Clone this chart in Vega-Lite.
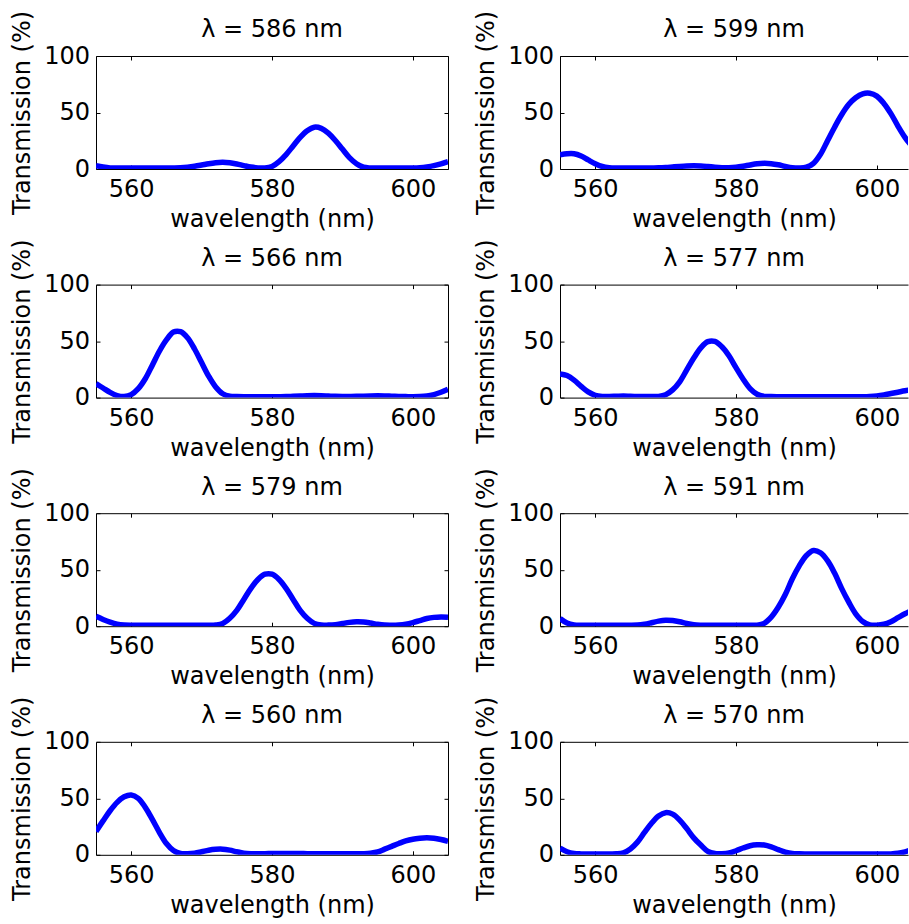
{
"$schema": "https://vega.github.io/schema/vega-lite/v6.json",
"padding": {"left": 10, "top": 10, "right": 0, "bottom": 0},
"background": "white",
"datasets": {"d": [
{"p":"586","x":555,"t":3},{"p":"586","x":556,"t":1.8},{"p":"586","x":557,"t":1},{"p":"586","x":558,"t":0.8},{"p":"586","x":559,"t":0.8},{"p":"586","x":560,"t":0.8},{"p":"586","x":561,"t":0.8},{"p":"586","x":562,"t":0.8},{"p":"586","x":563,"t":0.8},{"p":"586","x":564,"t":0.8},{"p":"586","x":565,"t":0.8},{"p":"586","x":566,"t":0.9},{"p":"586","x":567,"t":1.1},{"p":"586","x":568,"t":1.6},{"p":"586","x":569,"t":2.4},{"p":"586","x":570,"t":3.5},{"p":"586","x":571,"t":4.7},{"p":"586","x":572,"t":5.6},{"p":"586","x":573,"t":6},{"p":"586","x":574,"t":5.5},{"p":"586","x":575,"t":4.4},{"p":"586","x":576,"t":3},{"p":"586","x":577,"t":1.7},{"p":"586","x":578,"t":1},{"p":"586","x":579,"t":0.9},{"p":"586","x":580,"t":2.3},{"p":"586","x":581,"t":6.6},{"p":"586","x":582,"t":12.8},{"p":"586","x":583,"t":20.4},{"p":"586","x":584,"t":28},{"p":"586","x":585,"t":33.9},{"p":"586","x":586,"t":37},{"p":"586","x":587,"t":36},{"p":"586","x":588,"t":31.8},{"p":"586","x":589,"t":25.2},{"p":"586","x":590,"t":17.6},{"p":"586","x":591,"t":10},{"p":"586","x":592,"t":4.6},{"p":"586","x":593,"t":1.6},{"p":"586","x":594,"t":0.9},{"p":"586","x":595,"t":0.8},{"p":"586","x":596,"t":0.8},{"p":"586","x":597,"t":0.8},{"p":"586","x":598,"t":0.8},{"p":"586","x":599,"t":0.8},{"p":"586","x":600,"t":0.9},{"p":"586","x":601,"t":1.2},{"p":"586","x":602,"t":1.9},{"p":"586","x":603,"t":3},{"p":"586","x":604,"t":4.6},{"p":"586","x":605,"t":6.5},
{"p":"599","x":555,"t":12.5},{"p":"599","x":556,"t":13.5},{"p":"599","x":557,"t":13.5},{"p":"599","x":558,"t":11.5},{"p":"599","x":559,"t":8},{"p":"599","x":560,"t":4.7},{"p":"599","x":561,"t":2.2},{"p":"599","x":562,"t":1.1},{"p":"599","x":563,"t":0.8},{"p":"599","x":564,"t":0.8},{"p":"599","x":565,"t":0.8},{"p":"599","x":566,"t":0.8},{"p":"599","x":567,"t":0.8},{"p":"599","x":568,"t":0.9},{"p":"599","x":569,"t":1},{"p":"599","x":570,"t":1.3},{"p":"599","x":571,"t":1.8},{"p":"599","x":572,"t":2.3},{"p":"599","x":573,"t":2.7},{"p":"599","x":574,"t":2.9},{"p":"599","x":575,"t":2.7},{"p":"599","x":576,"t":2.2},{"p":"599","x":577,"t":1.6},{"p":"599","x":578,"t":1.2},{"p":"599","x":579,"t":1.1},{"p":"599","x":580,"t":1.5},{"p":"599","x":581,"t":2.4},{"p":"599","x":582,"t":3.6},{"p":"599","x":583,"t":4.6},{"p":"599","x":584,"t":5},{"p":"599","x":585,"t":4.7},{"p":"599","x":586,"t":3.7},{"p":"599","x":587,"t":2.3},{"p":"599","x":588,"t":1.2},{"p":"599","x":589,"t":0.9},{"p":"599","x":590,"t":1.6},{"p":"599","x":591,"t":5},{"p":"599","x":592,"t":13},{"p":"599","x":593,"t":25},{"p":"599","x":594,"t":37},{"p":"599","x":595,"t":48},{"p":"599","x":596,"t":57},{"p":"599","x":597,"t":63},{"p":"599","x":598,"t":66.5},{"p":"599","x":599,"t":67},{"p":"599","x":600,"t":64.5},{"p":"599","x":601,"t":58},{"p":"599","x":602,"t":49},{"p":"599","x":603,"t":38},{"p":"599","x":604,"t":28},{"p":"599","x":605,"t":20},
{"p":"566","x":555,"t":12.3},{"p":"566","x":556,"t":8.5},{"p":"566","x":557,"t":4.6},{"p":"566","x":558,"t":1.8},{"p":"566","x":559,"t":0.9},{"p":"566","x":560,"t":2.6},{"p":"566","x":561,"t":7.9},{"p":"566","x":562,"t":16.7},{"p":"566","x":563,"t":28.7},{"p":"566","x":564,"t":41},{"p":"566","x":565,"t":51},{"p":"566","x":566,"t":58},{"p":"566","x":567,"t":58.3},{"p":"566","x":568,"t":53},{"p":"566","x":569,"t":43},{"p":"566","x":570,"t":31},{"p":"566","x":571,"t":19},{"p":"566","x":572,"t":9.4},{"p":"566","x":573,"t":3.4},{"p":"566","x":574,"t":1.2},{"p":"566","x":575,"t":0.9},{"p":"566","x":576,"t":0.8},{"p":"566","x":577,"t":0.8},{"p":"566","x":578,"t":0.8},{"p":"566","x":579,"t":0.8},{"p":"566","x":580,"t":0.8},{"p":"566","x":581,"t":0.8},{"p":"566","x":582,"t":0.9},{"p":"566","x":583,"t":1.1},{"p":"566","x":584,"t":1.4},{"p":"566","x":585,"t":1.7},{"p":"566","x":586,"t":1.8},{"p":"566","x":587,"t":1.7},{"p":"566","x":588,"t":1.4},{"p":"566","x":589,"t":1.1},{"p":"566","x":590,"t":1},{"p":"566","x":591,"t":1},{"p":"566","x":592,"t":1.1},{"p":"566","x":593,"t":1.3},{"p":"566","x":594,"t":1.5},{"p":"566","x":595,"t":1.6},{"p":"566","x":596,"t":1.5},{"p":"566","x":597,"t":1.3},{"p":"566","x":598,"t":1},{"p":"566","x":599,"t":0.9},{"p":"566","x":600,"t":0.8},{"p":"566","x":601,"t":0.9},{"p":"566","x":602,"t":1.4},{"p":"566","x":603,"t":2.7},{"p":"566","x":604,"t":4.7},{"p":"566","x":605,"t":7.3},
{"p":"577","x":555,"t":21},{"p":"577","x":556,"t":19.5},{"p":"577","x":557,"t":15.5},{"p":"577","x":558,"t":10},{"p":"577","x":559,"t":5},{"p":"577","x":560,"t":2},{"p":"577","x":561,"t":1},{"p":"577","x":562,"t":1},{"p":"577","x":563,"t":1.2},{"p":"577","x":564,"t":1.4},{"p":"577","x":565,"t":1.2},{"p":"577","x":566,"t":1},{"p":"577","x":567,"t":0.9},{"p":"577","x":568,"t":0.9},{"p":"577","x":569,"t":1},{"p":"577","x":570,"t":2.5},{"p":"577","x":571,"t":6.8},{"p":"577","x":572,"t":14},{"p":"577","x":573,"t":24.5},{"p":"577","x":574,"t":35},{"p":"577","x":575,"t":44},{"p":"577","x":576,"t":49.5},{"p":"577","x":577,"t":49.7},{"p":"577","x":578,"t":45},{"p":"577","x":579,"t":37},{"p":"577","x":580,"t":26.5},{"p":"577","x":581,"t":16.5},{"p":"577","x":582,"t":8},{"p":"577","x":583,"t":3},{"p":"577","x":584,"t":1.1},{"p":"577","x":585,"t":0.9},{"p":"577","x":586,"t":0.8},{"p":"577","x":587,"t":0.8},{"p":"577","x":588,"t":0.8},{"p":"577","x":589,"t":0.8},{"p":"577","x":590,"t":0.8},{"p":"577","x":591,"t":0.8},{"p":"577","x":592,"t":0.8},{"p":"577","x":593,"t":0.8},{"p":"577","x":594,"t":0.8},{"p":"577","x":595,"t":0.8},{"p":"577","x":596,"t":0.8},{"p":"577","x":597,"t":0.8},{"p":"577","x":598,"t":0.8},{"p":"577","x":599,"t":1},{"p":"577","x":600,"t":1.5},{"p":"577","x":601,"t":2.4},{"p":"577","x":602,"t":3.6},{"p":"577","x":603,"t":4.8},{"p":"577","x":604,"t":6},{"p":"577","x":605,"t":7},
{"p":"579","x":555,"t":8.8},{"p":"579","x":556,"t":6},{"p":"579","x":557,"t":3.6},{"p":"579","x":558,"t":1.8},{"p":"579","x":559,"t":1},{"p":"579","x":560,"t":0.8},{"p":"579","x":561,"t":0.8},{"p":"579","x":562,"t":0.8},{"p":"579","x":563,"t":0.8},{"p":"579","x":564,"t":0.8},{"p":"579","x":565,"t":0.8},{"p":"579","x":566,"t":0.8},{"p":"579","x":567,"t":0.8},{"p":"579","x":568,"t":0.8},{"p":"579","x":569,"t":0.8},{"p":"579","x":570,"t":0.8},{"p":"579","x":571,"t":0.9},{"p":"579","x":572,"t":1.1},{"p":"579","x":573,"t":2.4},{"p":"579","x":574,"t":7},{"p":"579","x":575,"t":14},{"p":"579","x":576,"t":23.7},{"p":"579","x":577,"t":33.5},{"p":"579","x":578,"t":41.4},{"p":"579","x":579,"t":46},{"p":"579","x":580,"t":46},{"p":"579","x":581,"t":41.4},{"p":"579","x":582,"t":33.5},{"p":"579","x":583,"t":23.7},{"p":"579","x":584,"t":14},{"p":"579","x":585,"t":7},{"p":"579","x":586,"t":2.5},{"p":"579","x":587,"t":1},{"p":"579","x":588,"t":1},{"p":"579","x":589,"t":1.4},{"p":"579","x":590,"t":2.4},{"p":"579","x":591,"t":3.4},{"p":"579","x":592,"t":3.9},{"p":"579","x":593,"t":3.7},{"p":"579","x":594,"t":2.8},{"p":"579","x":595,"t":1.7},{"p":"579","x":596,"t":1},{"p":"579","x":597,"t":0.9},{"p":"579","x":598,"t":1.1},{"p":"579","x":599,"t":1.8},{"p":"579","x":600,"t":3.2},{"p":"579","x":601,"t":5},{"p":"579","x":602,"t":6.8},{"p":"579","x":603,"t":7.8},{"p":"579","x":604,"t":8.2},{"p":"579","x":605,"t":8},
{"p":"591","x":555,"t":6.8},{"p":"591","x":556,"t":2.8},{"p":"591","x":557,"t":1.1},{"p":"591","x":558,"t":0.8},{"p":"591","x":559,"t":0.8},{"p":"591","x":560,"t":0.8},{"p":"591","x":561,"t":0.8},{"p":"591","x":562,"t":0.8},{"p":"591","x":563,"t":0.8},{"p":"591","x":564,"t":0.8},{"p":"591","x":565,"t":0.8},{"p":"591","x":566,"t":1},{"p":"591","x":567,"t":1.8},{"p":"591","x":568,"t":3.1},{"p":"591","x":569,"t":4.5},{"p":"591","x":570,"t":5.3},{"p":"591","x":571,"t":5},{"p":"591","x":572,"t":3.9},{"p":"591","x":573,"t":2.4},{"p":"591","x":574,"t":1.3},{"p":"591","x":575,"t":0.9},{"p":"591","x":576,"t":0.8},{"p":"591","x":577,"t":0.8},{"p":"591","x":578,"t":0.8},{"p":"591","x":579,"t":0.8},{"p":"591","x":580,"t":0.8},{"p":"591","x":581,"t":0.8},{"p":"591","x":582,"t":0.8},{"p":"591","x":583,"t":0.9},{"p":"591","x":584,"t":2.5},{"p":"591","x":585,"t":8},{"p":"591","x":586,"t":16.7},{"p":"591","x":587,"t":28},{"p":"591","x":588,"t":42},{"p":"591","x":589,"t":53.6},{"p":"591","x":590,"t":62.6},{"p":"591","x":591,"t":67},{"p":"591","x":592,"t":65},{"p":"591","x":593,"t":58},{"p":"591","x":594,"t":47},{"p":"591","x":595,"t":33.5},{"p":"591","x":596,"t":21.5},{"p":"591","x":597,"t":11},{"p":"591","x":598,"t":4.2},{"p":"591","x":599,"t":1.2},{"p":"591","x":600,"t":0.9},{"p":"591","x":601,"t":1.7},{"p":"591","x":602,"t":4},{"p":"591","x":603,"t":7.5},{"p":"591","x":604,"t":11},{"p":"591","x":605,"t":14},
{"p":"560","x":555,"t":20.6},{"p":"560","x":556,"t":30},{"p":"560","x":557,"t":39},{"p":"560","x":558,"t":46.4},{"p":"560","x":559,"t":51.3},{"p":"560","x":560,"t":53},{"p":"560","x":561,"t":50},{"p":"560","x":562,"t":42},{"p":"560","x":563,"t":31.3},{"p":"560","x":564,"t":19.9},{"p":"560","x":565,"t":10},{"p":"560","x":566,"t":3.8},{"p":"560","x":567,"t":1.1},{"p":"560","x":568,"t":0.9},{"p":"560","x":569,"t":1.4},{"p":"560","x":570,"t":2.7},{"p":"560","x":571,"t":4.1},{"p":"560","x":572,"t":4.9},{"p":"560","x":573,"t":5},{"p":"560","x":574,"t":4.1},{"p":"560","x":575,"t":2.7},{"p":"560","x":576,"t":1.5},{"p":"560","x":577,"t":1},{"p":"560","x":578,"t":0.9},{"p":"560","x":579,"t":1},{"p":"560","x":580,"t":1.1},{"p":"560","x":581,"t":1.2},{"p":"560","x":582,"t":1.2},{"p":"560","x":583,"t":1.2},{"p":"560","x":584,"t":1.1},{"p":"560","x":585,"t":1},{"p":"560","x":586,"t":0.9},{"p":"560","x":587,"t":0.9},{"p":"560","x":588,"t":0.9},{"p":"560","x":589,"t":0.9},{"p":"560","x":590,"t":0.9},{"p":"560","x":591,"t":0.9},{"p":"560","x":592,"t":0.9},{"p":"560","x":593,"t":1},{"p":"560","x":594,"t":1.4},{"p":"560","x":595,"t":2.5},{"p":"560","x":596,"t":5},{"p":"560","x":597,"t":7.5},{"p":"560","x":598,"t":10},{"p":"560","x":599,"t":12.3},{"p":"560","x":600,"t":13.8},{"p":"560","x":601,"t":14.6},{"p":"560","x":602,"t":15},{"p":"560","x":603,"t":14.6},{"p":"560","x":604,"t":13.5},{"p":"560","x":605,"t":12},
{"p":"570","x":555,"t":5.9},{"p":"570","x":556,"t":2.7},{"p":"570","x":557,"t":1.1},{"p":"570","x":558,"t":0.8},{"p":"570","x":559,"t":0.8},{"p":"570","x":560,"t":0.8},{"p":"570","x":561,"t":0.8},{"p":"570","x":562,"t":0.8},{"p":"570","x":563,"t":0.9},{"p":"570","x":564,"t":1.8},{"p":"570","x":565,"t":5.2},{"p":"570","x":566,"t":11.2},{"p":"570","x":567,"t":19.8},{"p":"570","x":568,"t":27.9},{"p":"570","x":569,"t":34.3},{"p":"570","x":570,"t":37.3},{"p":"570","x":571,"t":36},{"p":"570","x":572,"t":30.7},{"p":"570","x":573,"t":23.2},{"p":"570","x":574,"t":15},{"p":"570","x":575,"t":8.6},{"p":"570","x":576,"t":3},{"p":"570","x":577,"t":1.1},{"p":"570","x":578,"t":1},{"p":"570","x":579,"t":1.6},{"p":"570","x":580,"t":3.6},{"p":"570","x":581,"t":6},{"p":"570","x":582,"t":8},{"p":"570","x":583,"t":8.8},{"p":"570","x":584,"t":8.6},{"p":"570","x":585,"t":7},{"p":"570","x":586,"t":4.6},{"p":"570","x":587,"t":2.4},{"p":"570","x":588,"t":1.1},{"p":"570","x":589,"t":0.9},{"p":"570","x":590,"t":0.8},{"p":"570","x":591,"t":0.8},{"p":"570","x":592,"t":0.8},{"p":"570","x":593,"t":0.8},{"p":"570","x":594,"t":0.8},{"p":"570","x":595,"t":0.8},{"p":"570","x":596,"t":0.8},{"p":"570","x":597,"t":0.8},{"p":"570","x":598,"t":0.8},{"p":"570","x":599,"t":0.8},{"p":"570","x":600,"t":0.8},{"p":"570","x":601,"t":0.8},{"p":"570","x":602,"t":0.8},{"p":"570","x":603,"t":1.3},{"p":"570","x":604,"t":2.6},{"p":"570","x":605,"t":4.5}
]},
"data": {"name": "d"},
"columns": 2,
"spacing": {"row": 115.6, "column": 112},
"bounds": "flush",
"concat": [
{"title": "λ = 586 nm", "width": 352, "height": 113, "transform": [{"filter": "datum.p === '586'"}],
 "layer": [
  {"mark": {"type": "line", "color": "#0000ff", "strokeWidth": 5.5, "clip": true, "interpolate": "catmull-rom"},
   "encoding": {"x": {"field": "x", "type": "quantitative", "scale": {"domain": [555, 605], "nice": false, "zero": false}, "axis": {"orient": "bottom", "values": [560, 580, 600], "title": "wavelength (nm)"}},
                "y": {"field": "t", "type": "quantitative", "scale": {"domain": [0, 100], "nice": false}, "axis": {"orient": "left", "values": [0, 50, 100], "title": "Transmission (%)"}}}},
  {"mark": {"type": "line", "opacity": 0},
   "encoding": {"x": {"field": "x", "type": "quantitative", "axis": {"orient": "top", "values": [560, 580, 600], "labels": false, "title": null}},
                "y": {"field": "t", "type": "quantitative", "axis": {"orient": "right", "values": [0, 50, 100], "labels": false, "title": null}}}}
 ],
 "resolve": {"axis": {"x": "independent", "y": "independent"}}},
{"title": "λ = 599 nm", "width": 348, "height": 113, "transform": [{"filter": "datum.p === '599'"}],
 "layer": [
  {"mark": {"type": "line", "color": "#0000ff", "strokeWidth": 5.5, "clip": true, "interpolate": "catmull-rom"},
   "encoding": {"x": {"field": "x", "type": "quantitative", "scale": {"domain": [555, 604.43], "nice": false, "zero": false}, "axis": {"orient": "bottom", "values": [560, 580, 600], "title": "wavelength (nm)"}},
                "y": {"field": "t", "type": "quantitative", "scale": {"domain": [0, 100], "nice": false}, "axis": {"orient": "left", "values": [0, 50, 100], "title": "Transmission (%)"}}}},
  {"mark": {"type": "line", "opacity": 0},
   "encoding": {"x": {"field": "x", "type": "quantitative", "axis": {"orient": "top", "values": [560, 580, 600], "labels": false, "title": null}},
                "y": {"field": "t", "type": "quantitative", "axis": null}}}
 ],
 "resolve": {"axis": {"x": "independent", "y": "independent"}}},
{"title": "λ = 566 nm", "width": 352, "height": 113, "transform": [{"filter": "datum.p === '566'"}],
 "layer": [
  {"mark": {"type": "line", "color": "#0000ff", "strokeWidth": 5.5, "clip": true, "interpolate": "catmull-rom"},
   "encoding": {"x": {"field": "x", "type": "quantitative", "scale": {"domain": [555, 605], "nice": false, "zero": false}, "axis": {"orient": "bottom", "values": [560, 580, 600], "title": "wavelength (nm)"}},
                "y": {"field": "t", "type": "quantitative", "scale": {"domain": [0, 100], "nice": false}, "axis": {"orient": "left", "values": [0, 50, 100], "title": "Transmission (%)"}}}},
  {"mark": {"type": "line", "opacity": 0},
   "encoding": {"x": {"field": "x", "type": "quantitative", "axis": {"orient": "top", "values": [560, 580, 600], "labels": false, "title": null}},
                "y": {"field": "t", "type": "quantitative", "axis": {"orient": "right", "values": [0, 50, 100], "labels": false, "title": null}}}}
 ],
 "resolve": {"axis": {"x": "independent", "y": "independent"}}},
{"title": "λ = 577 nm", "width": 348, "height": 113, "transform": [{"filter": "datum.p === '577'"}],
 "layer": [
  {"mark": {"type": "line", "color": "#0000ff", "strokeWidth": 5.5, "clip": true, "interpolate": "catmull-rom"},
   "encoding": {"x": {"field": "x", "type": "quantitative", "scale": {"domain": [555, 604.43], "nice": false, "zero": false}, "axis": {"orient": "bottom", "values": [560, 580, 600], "title": "wavelength (nm)"}},
                "y": {"field": "t", "type": "quantitative", "scale": {"domain": [0, 100], "nice": false}, "axis": {"orient": "left", "values": [0, 50, 100], "title": "Transmission (%)"}}}},
  {"mark": {"type": "line", "opacity": 0},
   "encoding": {"x": {"field": "x", "type": "quantitative", "axis": {"orient": "top", "values": [560, 580, 600], "labels": false, "title": null}},
                "y": {"field": "t", "type": "quantitative", "axis": null}}}
 ],
 "resolve": {"axis": {"x": "independent", "y": "independent"}}},
{"title": "λ = 579 nm", "width": 352, "height": 113, "transform": [{"filter": "datum.p === '579'"}],
 "layer": [
  {"mark": {"type": "line", "color": "#0000ff", "strokeWidth": 5.5, "clip": true, "interpolate": "catmull-rom"},
   "encoding": {"x": {"field": "x", "type": "quantitative", "scale": {"domain": [555, 605], "nice": false, "zero": false}, "axis": {"orient": "bottom", "values": [560, 580, 600], "title": "wavelength (nm)"}},
                "y": {"field": "t", "type": "quantitative", "scale": {"domain": [0, 100], "nice": false}, "axis": {"orient": "left", "values": [0, 50, 100], "title": "Transmission (%)"}}}},
  {"mark": {"type": "line", "opacity": 0},
   "encoding": {"x": {"field": "x", "type": "quantitative", "axis": {"orient": "top", "values": [560, 580, 600], "labels": false, "title": null}},
                "y": {"field": "t", "type": "quantitative", "axis": {"orient": "right", "values": [0, 50, 100], "labels": false, "title": null}}}}
 ],
 "resolve": {"axis": {"x": "independent", "y": "independent"}}},
{"title": "λ = 591 nm", "width": 348, "height": 113, "transform": [{"filter": "datum.p === '591'"}],
 "layer": [
  {"mark": {"type": "line", "color": "#0000ff", "strokeWidth": 5.5, "clip": true, "interpolate": "catmull-rom"},
   "encoding": {"x": {"field": "x", "type": "quantitative", "scale": {"domain": [555, 604.43], "nice": false, "zero": false}, "axis": {"orient": "bottom", "values": [560, 580, 600], "title": "wavelength (nm)"}},
                "y": {"field": "t", "type": "quantitative", "scale": {"domain": [0, 100], "nice": false}, "axis": {"orient": "left", "values": [0, 50, 100], "title": "Transmission (%)"}}}},
  {"mark": {"type": "line", "opacity": 0},
   "encoding": {"x": {"field": "x", "type": "quantitative", "axis": {"orient": "top", "values": [560, 580, 600], "labels": false, "title": null}},
                "y": {"field": "t", "type": "quantitative", "axis": null}}}
 ],
 "resolve": {"axis": {"x": "independent", "y": "independent"}}},
{"title": "λ = 560 nm", "width": 352, "height": 113, "transform": [{"filter": "datum.p === '560'"}],
 "layer": [
  {"mark": {"type": "line", "color": "#0000ff", "strokeWidth": 5.5, "clip": true, "interpolate": "catmull-rom"},
   "encoding": {"x": {"field": "x", "type": "quantitative", "scale": {"domain": [555, 605], "nice": false, "zero": false}, "axis": {"orient": "bottom", "values": [560, 580, 600], "title": "wavelength (nm)"}},
                "y": {"field": "t", "type": "quantitative", "scale": {"domain": [0, 100], "nice": false}, "axis": {"orient": "left", "values": [0, 50, 100], "title": "Transmission (%)"}}}},
  {"mark": {"type": "line", "opacity": 0},
   "encoding": {"x": {"field": "x", "type": "quantitative", "axis": {"orient": "top", "values": [560, 580, 600], "labels": false, "title": null}},
                "y": {"field": "t", "type": "quantitative", "axis": {"orient": "right", "values": [0, 50, 100], "labels": false, "title": null}}}}
 ],
 "resolve": {"axis": {"x": "independent", "y": "independent"}}},
{"title": "λ = 570 nm", "width": 348, "height": 113, "transform": [{"filter": "datum.p === '570'"}],
 "layer": [
  {"mark": {"type": "line", "color": "#0000ff", "strokeWidth": 5.5, "clip": true, "interpolate": "catmull-rom"},
   "encoding": {"x": {"field": "x", "type": "quantitative", "scale": {"domain": [555, 604.43], "nice": false, "zero": false}, "axis": {"orient": "bottom", "values": [560, 580, 600], "title": "wavelength (nm)"}},
                "y": {"field": "t", "type": "quantitative", "scale": {"domain": [0, 100], "nice": false}, "axis": {"orient": "left", "values": [0, 50, 100], "title": "Transmission (%)"}}}},
  {"mark": {"type": "line", "opacity": 0},
   "encoding": {"x": {"field": "x", "type": "quantitative", "axis": {"orient": "top", "values": [560, 580, 600], "labels": false, "title": null}},
                "y": {"field": "t", "type": "quantitative", "axis": null}}}
 ],
 "resolve": {"axis": {"x": "independent", "y": "independent"}}}
],
"config": {
  "view": {"stroke": null},
  "font": "DejaVu Sans",
  "title": {"font": "DejaVu Sans", "fontSize": 24, "fontWeight": "normal", "color": "black", "anchor": "middle", "frame": "group", "baseline": "alphabetic", "offset": -32},
  "axis": {"grid": false, "domainColor": "black", "domainWidth": 1, "tickColor": "black", "tickSize": -4, "tickWidth": 1,
           "labelFont": "DejaVu Sans", "labelFontSize": 24, "labelColor": "black", "labelFlush": false, "labelOverlap": false,
           "titleFont": "DejaVu Sans", "titleFontSize": 24, "titleFontWeight": "normal", "titleColor": "black"},
  "axisBottom": {"labelPadding": 12.5, "titlePadding": 6},
  "axisLeft": {"labelPadding": 10.5, "titlePadding": 9},
  "axisTop": {"labelPadding": 0, "titlePadding": 0},
  "axisRight": {"labelPadding": 0, "titlePadding": 0}
}
}
